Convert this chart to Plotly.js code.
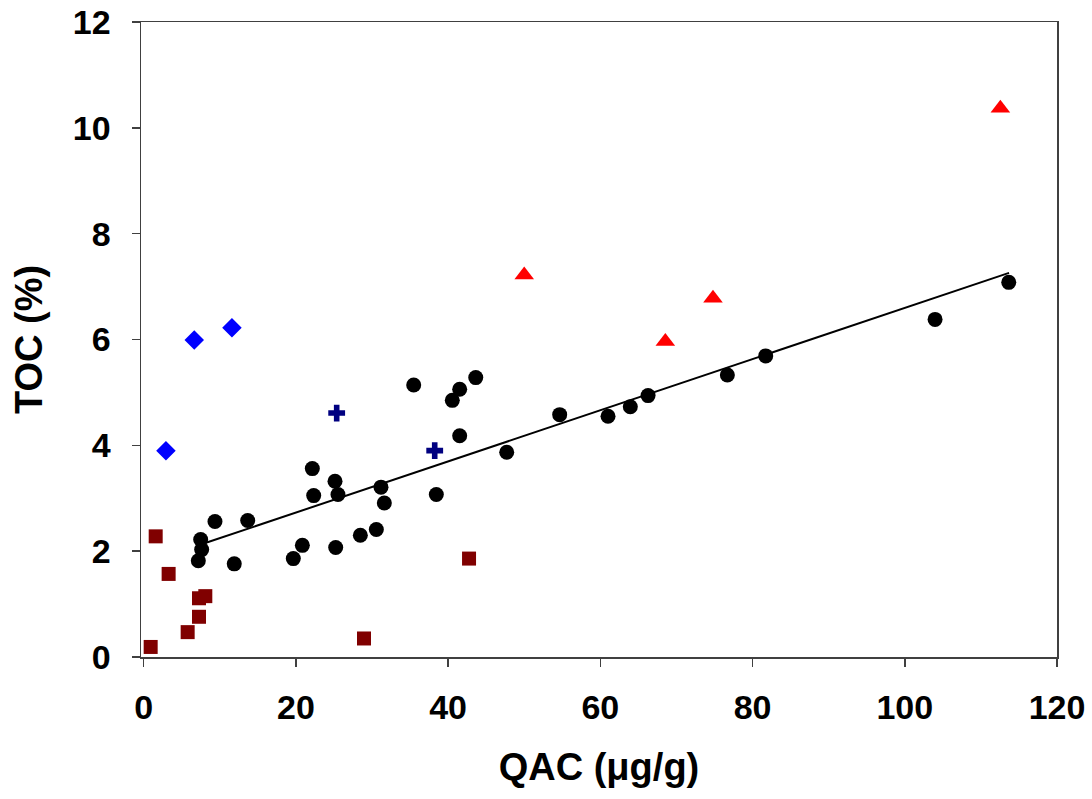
<!DOCTYPE html>
<html>
<head>
<meta charset="utf-8">
<script src="https://cdn.plot.ly/plotly-3.0.1.min.js"></script>
<style>html,body{margin:0;padding:0;background:#fff;}#chart{width:1092px;height:799px;}</style>
</head>
<body>
<div id="chart"></div>
<script>
// Black circles (main samples)
const circleX = [7.49, 7.62, 7.18, 9.37, 11.9, 13.67, 19.66, 20.85, 22.16, 22.34, 25.23, 25.14, 25.53, 28.47, 30.57, 31.18, 31.62, 35.48, 38.45, 40.55, 41.52, 41.52, 43.63, 47.7, 54.66, 61.01, 63.94, 66.27, 76.69, 81.73, 103.98, 113.66];
const circleY = [2.22, 2.03, 1.82, 2.56, 1.76, 2.58, 1.86, 2.11, 3.56, 3.05, 2.07, 3.32, 3.07, 2.30, 2.41, 3.21, 2.91, 5.14, 3.07, 4.85, 5.06, 4.18, 5.28, 3.87, 4.58, 4.55, 4.73, 4.94, 5.33, 5.69, 6.38, 7.08];
// Blue diamonds
const diamondX = [6.65, 11.6, 2.93];
const diamondY = [5.99, 6.22, 3.90];
// Navy crosses
const crossX = [25.36, 38.24];
const crossY = [4.61, 3.90];
// Red triangles
const triX = [50.0, 68.54, 74.8, 112.56];
const triY = [7.22, 5.96, 6.78, 10.37];
// Dark red squares
const squareX = [1.58, 3.28, 7.27, 8.1, 7.27, 5.78, 0.92, 28.95, 42.75];
const squareY = [2.28, 1.57, 1.11, 1.15, 0.76, 0.47, 0.19, 0.35, 1.86];
// Trend line endpoints
const fitX = [7.6, 113.7];
const fitY = [2.13, 7.26];

const xTicks = [0, 20, 40, 60, 80, 100, 120];
const yTicks = [0, 2, 4, 6, 8, 10, 12];

const traces = [
  {x: fitX, y: fitY, mode: 'lines', line: {color: '#000', width: 2}, hoverinfo: 'skip'},
  {x: circleX, y: circleY, mode: 'markers', marker: {symbol: 'circle', size: 15, color: '#000'}},
  {x: squareX, y: squareY, mode: 'markers', marker: {symbol: 'square', size: 14, color: '#800000'}},
  {x: diamondX, y: diamondY, mode: 'markers', marker: {symbol: 'diamond', size: 15, color: '#0000FF'}},
  {x: crossX, y: crossY, mode: 'markers', marker: {symbol: 'cross', size: 14, color: '#000080'}},
  {x: triX, y: triY, mode: 'markers', marker: {symbol: 'triangle-up', size: 17, color: '#FF0000'}}
];

const tickFont = {family: 'Liberation Sans, Arial, sans-serif', size: 34, color: '#000', weight: 'bold'};
const titleFont = {family: 'Liberation Sans, Arial, sans-serif', size: 38, color: '#000', weight: 'bold'};

const layout = {
  width: 1092, height: 799,
  margin: {l: 141, r: 35, t: 22, b: 142},
  paper_bgcolor: '#fff', plot_bgcolor: '#fff',
  showlegend: false,
  xaxis: {
    range: [-0.35, 120], tickvals: xTicks, ticktext: xTicks.map(String),
    ticks: 'outside', ticklen: 8, tickwidth: 1.5, tickcolor: '#404040',
    showline: true, linecolor: '#404040', linewidth: 1.5, mirror: true,
    showgrid: false, zeroline: false,
    tickfont: tickFont, ticklabelstandoff: 12,
    title: {text: 'QAC (μg/g)', font: titleFont, standoff: 28}
  },
  yaxis: {
    range: [0, 12], tickvals: yTicks, ticktext: yTicks.map(String),
    ticks: 'outside', ticklen: 8, tickwidth: 1.5, tickcolor: '#404040',
    showline: true, linecolor: '#404040', linewidth: 1.5, mirror: true,
    showgrid: false, zeroline: false,
    tickfont: tickFont, ticklabelstandoff: 14,
    title: {text: 'TOC (%)', font: titleFont, standoff: 18}
  }
};

Plotly.newPlot('chart', traces, layout, {displayModeBar: false, staticPlot: true});
</script>
</body>
</html>
